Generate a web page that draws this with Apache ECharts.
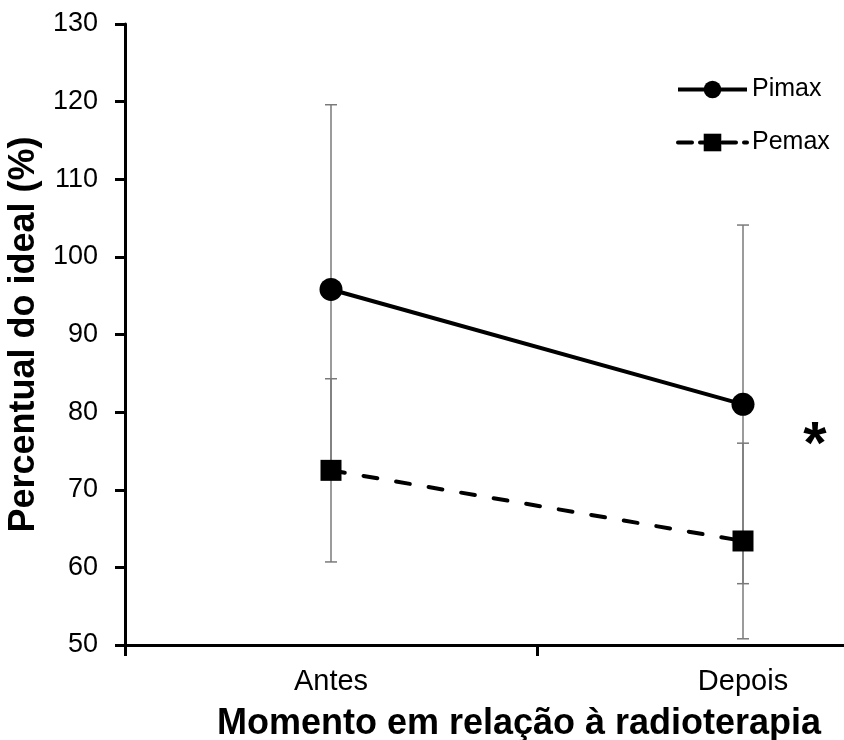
<!DOCTYPE html>
<html><head><meta charset="utf-8">
<script src="https://cdn.jsdelivr.net/npm/echarts@6/dist/echarts.min.js"></script>
<style>html,body{margin:0;padding:0;background:#fff}#c{width:844px;height:740px}</style>
</head><body><div id="c"></div>
<script>
const categories = ['Antes', 'Depois'];
const pimaxMean = [95.8, 81.0];
const pimaxSD = [23.8, 23.1];
const pemaxMean = [72.5, 63.4];
const pemaxSD = [11.8, 12.6];
const yTicks = {min: 50, max: 130, interval: 10};

const FONT = 'Liberation Sans, Arial, sans-serif';
const chart = echarts.init(document.getElementById('c'));
function errData(mean, sd) { return mean.map((m, i) => [i, m - sd[i], m + sd[i]]); }
function errSeries(mean, sd) {
  return {
    type: 'custom', z: 1, silent: true,
    data: errData(mean, sd),
    renderItem: function (params, api) {
      const lo = api.coord([api.value(0), api.value(1)]);
      const hi = api.coord([api.value(0), api.value(2)]);
      const w = 6;
      const st = {stroke: '#7a7a7a', lineWidth: 1.5};
      return {type: 'group', children: [
        {type: 'line', shape: {x1: lo[0], y1: lo[1], x2: hi[0], y2: hi[1]}, style: st},
        {type: 'line', shape: {x1: lo[0]-w, y1: lo[1], x2: lo[0]+w, y2: lo[1]}, style: st},
        {type: 'line', shape: {x1: hi[0]-w, y1: hi[1], x2: hi[0]+w, y2: hi[1]}, style: st}
      ]};
    }
  };
}
chart.setOption({
  animation: false,
  textStyle: {fontFamily: FONT},
  grid: {left: 125, top: 24, height: 621, width: 824, containLabel: false, outerBoundsMode: 'none'},
  legend: {
    orient: 'vertical', left: 671, top: 72, itemGap: 28, itemWidth: 69, itemHeight: 22,
    textStyle: {fontSize: 25, color: '#000', fontFamily: FONT},
    data: [
      {name: 'Pimax', lineStyle: {width: 4}},
      {name: 'Pemax', lineStyle: {type: [14, 8], width: 4}}
    ]
  },
  xAxis: {
    type: 'category', data: categories, boundaryGap: true,
    axisLine: {lineStyle: {color: '#000', width: 3}},
    axisTick: {show: true, interval: 0, length: 11, lineStyle: {width: 3, color: '#000'}},
    axisLabel: {fontSize: 29, color: '#000', margin: 22, fontFamily: FONT},
    name: 'Momento em relação à radioterapia', nameLocation: 'middle', nameGap: 61,
    nameTextStyle: {fontSize: 36, fontWeight: 'bold', color: '#000', padding: [0, 36, 0, 0], fontFamily: FONT}
  },
  yAxis: {
    type: 'value', min: yTicks.min, max: yTicks.max, interval: yTicks.interval,
    splitLine: {show: false},
    axisLine: {show: true, lineStyle: {color: '#000', width: 3}},
    axisTick: {show: true, length: 10, lineStyle: {width: 3, color: '#000'}},
    axisLabel: {fontSize: 27, color: '#000', margin: 27, fontFamily: FONT},
    name: 'Percentual do ideal (%)', nameLocation: 'middle', nameGap: 75, nameRotate: 90,
    nameTextStyle: {fontSize: 36, fontWeight: 'bold', color: '#000', fontFamily: FONT}
  },
  graphic: [{type: 'text', x: 815, y: 446, style: {text: '*', font: 'bold 60px Liberation Sans, Arial', fill: '#000', textAlign: 'center', textVerticalAlign: 'middle'}}],
  series: [
    errSeries(pimaxMean, pimaxSD),
    errSeries(pemaxMean, pemaxSD),
    {name: 'Pimax', type: 'line', z: 3, data: pimaxMean, symbol: 'circle', symbolSize: 23,
     lineStyle: {color: '#000', width: 4}, itemStyle: {color: '#000'}},
    {name: 'Pemax', type: 'line', z: 3, data: pemaxMean, symbol: 'rect', symbolSize: 21,
     lineStyle: {color: '#000', width: 4, type: [14, 19], cap: 'round'}, itemStyle: {color: '#000'}}
  ]
});
</script></body></html>
